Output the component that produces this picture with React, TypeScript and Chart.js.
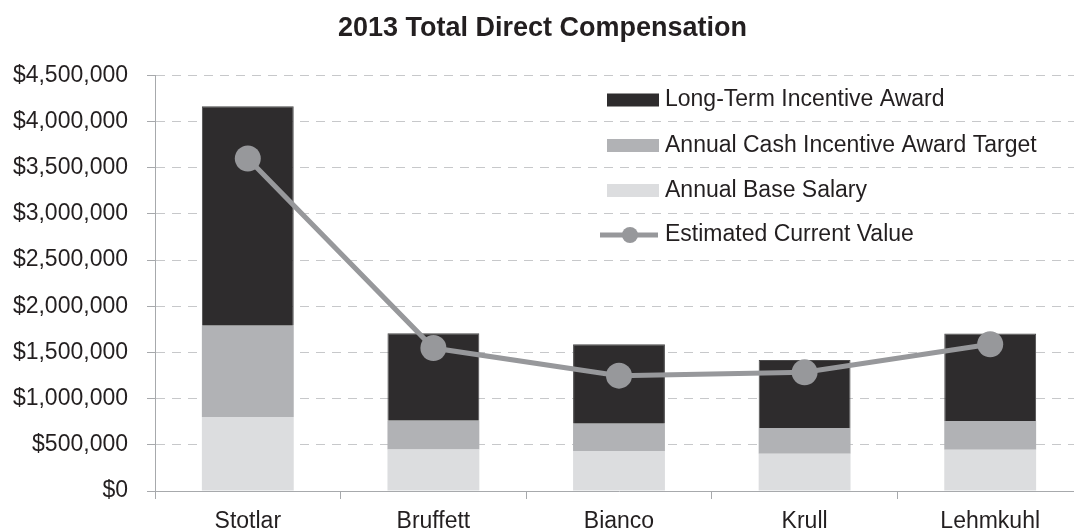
import React, { useEffect, useRef } from 'react';
import { Chart, registerables } from 'chart.js';

Chart.register(...registerables);

const FONT = '"Liberation Sans", Arial, Helvetica, sans-serif';

const categories = ['Stotlar', 'Bruffett', 'Bianco', 'Krull', 'Lehmkuhl'];
const baseSalary = [800000, 450000, 432000, 404000, 447000];
const cashIncentiveTarget = [990000, 311000, 297000, 277000, 310000];
const longTermIncentive = [2375000, 947000, 860000, 737000, 948000];
const estimatedCurrentValue = [3600000, 1548000, 1249000, 1285000, 1589000];
const yTickValues = [0, 500000, 1000000, 1500000, 2000000, 2500000, 3000000, 3500000, 4000000, 4500000];

const COLOR_LTI = '#2e2c2d';
const COLOR_CASH = '#b1b2b5';
const COLOR_BASE = '#dcdddf';
const COLOR_LINE = '#97989b';
const TEXT = '#231f20';
const AXIS = '#a7a9ac';
const GRID = '#c7c8ca';

const legendOrder = [2, 1, 0, 3];

const customLegend = {
  id: 'customLegend',
  afterDraw(chart: any) {
    const ctx = chart.ctx as CanvasRenderingContext2D;
    const rowsY = [100, 145.5, 190.5, 235];
    ctx.save();
    ctx.font = `23px ${FONT}`;
    ctx.textBaseline = 'middle';
    ctx.textAlign = 'left';
    legendOrder.forEach((dsIndex, i) => {
      const ds = chart.data.datasets[dsIndex];
      const y = rowsY[i];
      if (ds.type === 'line') {
        ctx.strokeStyle = ds.borderColor;
        ctx.lineWidth = 5;
        ctx.beginPath();
        ctx.moveTo(600, y);
        ctx.lineTo(658, y);
        ctx.stroke();
        ctx.fillStyle = ds.pointBackgroundColor;
        ctx.beginPath();
        ctx.arc(630, y, 8, 0, Math.PI * 2);
        ctx.fill();
      } else {
        ctx.fillStyle = ds.backgroundColor;
        ctx.fillRect(607, y - 6.5, 52, 13);
      }
      ctx.fillStyle = TEXT;
      ctx.fillText(ds.label, 665, y);
    });
    ctx.restore();
  },
};

export default function App() {
  const ref = useRef<HTMLCanvasElement>(null);

  useEffect(() => {
    const canvas = ref.current;
    if (!canvas) return;
    const chart = new Chart(canvas, {
      type: 'bar',
      data: {
        labels: categories,
        datasets: [
          {
            type: 'bar',
            label: 'Annual Base Salary',
            data: baseSalary,
            backgroundColor: COLOR_BASE,
            borderWidth: 0,
            categoryPercentage: 1,
            barPercentage: 0.495,
            order: 1,
          },
          {
            type: 'bar',
            label: 'Annual Cash Incentive Award Target',
            data: cashIncentiveTarget,
            backgroundColor: COLOR_CASH,
            borderWidth: 0,
            categoryPercentage: 1,
            barPercentage: 0.495,
            order: 1,
          },
          {
            type: 'bar',
            label: 'Long-Term Incentive Award',
            data: longTermIncentive,
            backgroundColor: COLOR_LTI,
            borderColor: '#4a494a',
            borderWidth: 1,
            categoryPercentage: 1,
            barPercentage: 0.495,
            order: 1,
          },
          {
            type: 'line',
            label: 'Estimated Current Value',
            data: estimatedCurrentValue,
            borderColor: COLOR_LINE,
            backgroundColor: COLOR_LINE,
            pointBackgroundColor: COLOR_LINE,
            borderWidth: 5,
            pointRadius: 13,
            pointHoverRadius: 13,
            pointBorderWidth: 0,
            tension: 0,
            stack: 'ecv',
            order: 0,
          } as any,
        ],
      },
      options: {
        responsive: false,
        animation: false,
        devicePixelRatio: 1,
        layout: { padding: { left: 0, right: 11, top: 0, bottom: 0 } },
        plugins: {
          legend: { display: false },
          tooltip: { enabled: false },
          title: {
            display: true,
            text: '2013 Total Direct Compensation',
            color: TEXT,
            font: { family: FONT, size: 27, weight: 'bold' },
            padding: { top: 12, bottom: 31 },
          },
        },
        scales: {
          x: {
            stacked: true,
            offset: true,
            grid: {
              offset: true,
              drawOnChartArea: false,
              drawTicks: true,
              tickLength: 8,
              tickColor: AXIS,
              tickWidth: 1,
            },
            border: { color: AXIS, width: 1 },
            ticks: {
              color: TEXT,
              font: { family: FONT, size: 23 },
              padding: 9,
              maxRotation: 0,
            },
            afterFit(scale: any) {
              scale.height = 40;
            },
          },
          y: {
            stacked: true,
            min: 0,
            max: 4500000,
            afterBuildTicks(scale: any) {
              scale.ticks = yTickValues.map((v) => ({ value: v }));
            },
            grid: {
              color: GRID,
              lineWidth: 1,
              tickColor: AXIS,
              tickLength: 8,
              tickWidth: 1,
              tickBorderDash: [],
            },
            border: { color: AXIS, width: 1, dash: [9, 7] },
            ticks: {
              color: TEXT,
              font: { family: FONT, size: 23 },
              padding: 19,
              callback: (v: any) => '$' + Number(v).toLocaleString('en-US'),
            },
            afterFit(scale: any) {
              scale.width = 155;
            },
          },
        },
      },
      plugins: [customLegend],
    });
    return () => chart.destroy();
  }, []);

  return (
    <div
      style={{
        position: 'fixed',
        left: 0,
        top: 0,
        width: 1074,
        height: 531,
        overflow: 'hidden',
        background: '#ffffff',
      }}
    >
      <canvas ref={ref} width={1096} height={531} style={{ display: 'block' }} />
    </div>
  );
}
